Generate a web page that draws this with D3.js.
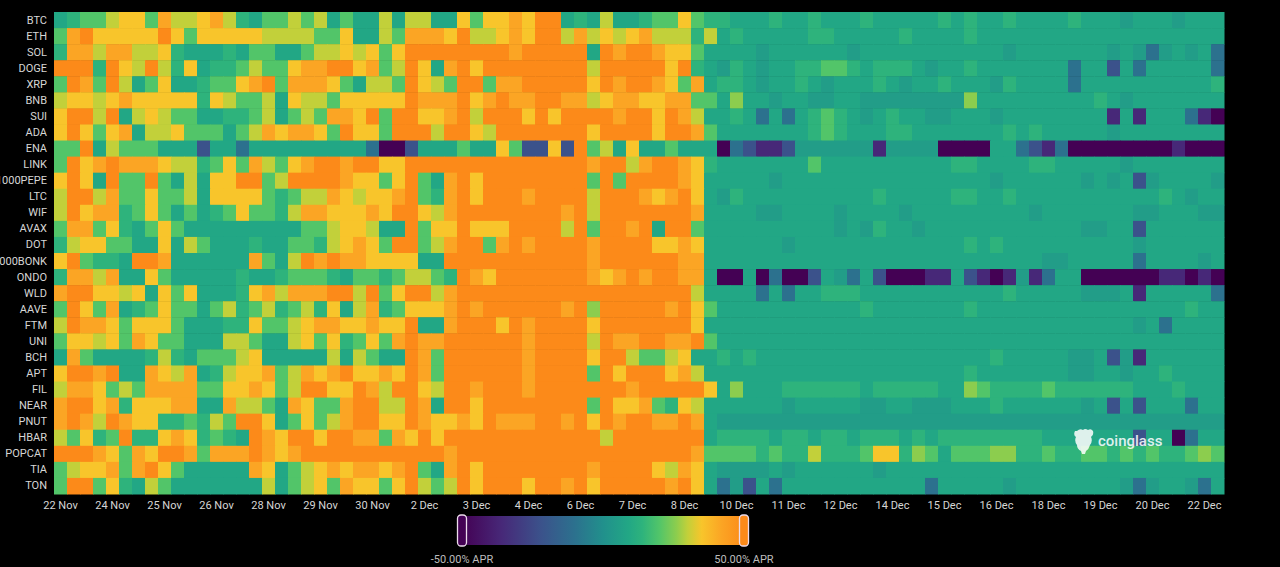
<!DOCTYPE html>
<html>
<head>
<meta charset="utf-8">
<script src="https://cdn.jsdelivr.net/npm/d3@7.9.0/dist/d3.min.js"></script>
<style>
  html, body { margin: 0; background: #000; overflow: hidden; }
  svg { display: block; font-family: Roboto, 'Noto Sans', sans-serif; }
</style>
</head>
<body>
<div id="chart"></div>
<script>
// coins, top to bottom
const symbols = ['BTC', 'ETH', 'SOL', 'DOGE', 'XRP', 'BNB', 'SUI', 'ADA', 'ENA', 'LINK',
  '1000PEPE', 'LTC', 'WIF', 'AVAX', 'DOT', '1000BONK', 'ONDO', 'WLD', 'AAVE', 'FTM',
  'UNI', 'BCH', 'APT', 'FIL', 'NEAR', 'PNUT', 'HBAR', 'POPCAT', 'TIA', 'TON'];

// 8h buckets, one label every 4 buckets
const tickLabels = ['22 Nov', '24 Nov', '25 Nov', '26 Nov', '28 Nov', '29 Nov', '30 Nov',
  '2 Dec', '3 Dec', '4 Dec', '6 Dec', '7 Dec', '8 Dec', '10 Dec', '11 Dec', '12 Dec',
  '14 Dec', '15 Dec', '16 Dec', '18 Dec', '19 Dec', '20 Dec', '22 Dec'];
const tickStep = 4;

// funding APR (%) per letter
const levelValues = { P: -50, V: -36, B: -22, b: -10, s: 5, t: 9, T: 14, g: 20, G: 26, y: 30, Y: 35, o: 42, O: 50 };

// one string per coin, 90 buckets (spaces only for reading)
const rates = [
  'tTggyYYgoyyYoyTtg gygytgttytyyttYgY YoYOOtTtyttTggYgT TtttTttTtttTtttttTtT ttTttttTtttstttsttt',
  'goOYYYYYOYgYYYYYy yyyggYttygoooYOyy YoYOOyoyYyYoyyyTy tTtttttTTtttttTttttT ttttttttttttttttttt',
  'TooyooyyYTtttTtgg ttgyyYyYgYOOOOOOO OoOOOOOtOoOOoYYgt tttsttttttsttttttttt ttstttttttstsbststb',
  'OOOTOYyOyTYtTTgyg gYooOOYogyOYtoOYO OOOOOOOyOOOOOYOTt sTtsttTTggTtTTTtsttT tttttttbttBtbtttttb',
  'gOogOytgYttTggYoO goooYgtyygOYygOOg ooOOOOOYOoOOoYgot TTtsttTtstttTtsttTtt tsTttttbttttttttttT',
  'yYYyYoYYYYYTYyggy tYyygYYYYYOoooOYo OooOOooyYooYYoogg tGttsttssttssssssssG tttttttttTtsttttttt',
  'YOOyOtyYyggttTTgy tgygooYOgOOYYoOyO OOYOYOOOOoOOYOoyt tTtbtbtTgTtstTttsstt tsttttttttVtVtttbVP',
  'YOYgYotyyYgggtgyo YooYgOYYgOOOyOOYy OOOOOOOYOOOOYOOog tttttttTgTtttTTttttt ttTtTtttttstttttttt',
  'ggOtygggtttBttbtt tttttttbPPBtttgtt YgBBYBOgytYttgttt PbBVVBssssssVssssPPP PttbBVbPPPPPPPPVPPP',
  'gOYoOoooYyyTgYgoy gYoOOoOOYYOOOOOOO OOOOOOOoOOyoOOoYT tttttttgttttttttttTT ttttTTtttttsttttttt',
  'YOYtOggOgtytYYOOg yOOOOoYYgYOgtoOYO OOOOOOOgOgOOOOoYt ttttsttttttttttttttt tsttttttststBstttts',
  'yOOyoggYggytYYYYg TgyyoYyYYoOgToOYO OOoOOOOyOOOoYoOYt sTttttttttttTtttttTT ttTtttttttttttTtstt',
  'yOYooTgYgtgtTgYgg TyooYYYoYOOYyoOOO OOOOOoOyOOOOOOOot tttssttttsttttsttttt ttttstttttttsstttss',
  'googYTtgYgttttttt ttggyYYyttOgYYOYY YOOOOyOgOOoOtOOgt tttttttttstsTttstttt ttttttttssttBtttttt',
  'TyYYggttYtygtttTt tggTyYoYgOOgyoOOg oOoOOOOoOOOOYYoYt tttttstttttttttttttT tTttttttttttstttttt',
  'YOgTTtOOottttttog tyOoOooYYYYttOOOO OOOOOOOoOOOOOOoot tttttttttttttttttttt tttttsstttttbttttst',
  'TooyottYgtttttTtt TgggTtggTgyygTOoY OOOOOOOoYoOoOOoot PPtPbPPBtsbtBPPPVVtB VPVsVbttPPPPPPVVPVP',
  'oOOYYyYtYgYtttTYo yoooOOyOgYOOyoOOO OOOOOOOOOOOOOOOyt tttbtbttTTTttttttttt ttTtttttssstVtttttb',
  'gOYgotTgYggtgyTgy TgyTYtyoTgYYYoOoO OOOOOoOGOOOOOoOYg tttttttttttTtttttttT ttttttttttttttttTtt',
  'yOooYgYYYgtttTTYg gyYooYYoYYOttoOOO YOoOOOOYOOOOOOOYt tttttttttttttttttttt ttttttttttttstbtttt',
  'gYYyYgoYggtttyygt tyYgYTgYgoOooOOOO OOoOOOOyOooOOooOg tttttttttttttttttttt ttttttttttttttttttt',
  'togttttTyTtgggyYt ttttytygttOogOOOO OOoOOOOYOOyggyYtt TtTttttttttttttttttt tTtttttsstBsVtttttt',
  'YOOoOttoYyotTyYYo gyoYoOYYoYOogOOOO OOoOOOOgOYOOOYoyt tttttttttttttttttttT tttttttssttsttTtttt',
  'yooYgygooooggYYoY gyOOYYOoyOOYyOOoO OOoOOOOOOOoOOOOOY tGtttTTTTTTtTTTTTttG gTTTTgTTTTTTtttTttt',
  'oOOYoTYYYoottoyyg toYggoOOyyOotOOYO OOOOOOOgOYYogTYyt tttttstttttssttssstt tTttttttstBtBtttbtt',
  'oOoyOoYYTTgTygOOY tgYgyoOOYYOoYYoYO oooOOoOYOoOOooOot ssssssssssssssssssss sssssssssssssssssss',
  'ygYTgOTTYoYTgTtOo YOOYOOoogoYOYOOOO OOOOOOOOyOOOOOOOt TTTTtTTtTTtTTTtTtTTT TTTTTtttttttBttPbtt',
  'OOOoYgoYOOogoooOo YoOOOOOOOOOOOoOOO OOOOOOOOOOOOOOOog gggTgTTyTTTgYYTGgtgg gGGTTgTTggTgTgTTgGg',
  'gyYYogoOYgtttttoY tgyYoYooYoOgtoOYO OOOOOOOoOOOOYyoYt sssststtttttsttttttt ttttttttttttttttttt',
  'gOOgYTtygttttttty tgyYgoYYgYOygyOYO OOYOOoOYOOOOOoOYt bsBtbtttttttttttbttt ttsttttttttsbsttsbt'
];

// colour ramp, APR % -> colour
const rampValues = [-50, -36, -22, -10, 0, 9, 14, 20, 26, 30, 35, 42, 50];
const rampColors = ['#440154', '#472878', '#3b528b', '#2c718e', '#21908c', '#22a785', '#2eb37c',
  '#52c569', '#8ccd4e', '#c2d03a', '#f8c52b', '#fba524', '#fc8a19'];

const width = 1280;
const height = 567;

const cells = [];
rates.forEach((row, i) => {
  row.replace(/ /g, '').split('').forEach((ch, j) => {
    cells.push({ symbol: symbols[i], col: j, value: levelValues[ch] });
  });
});
const nCols = d3.max(rates, (r) => r.replace(/ /g, '').length);

const svg = d3
  .select('#chart')
  .append('svg')
  .attr('width', width)
  .attr('height', height);

svg.append('rect').attr('width', width).attr('height', height).attr('fill', '#000');

const plot = { left: 54, right: 1224, top: 12, bottom: 494 };

const xScale = d3
  .scaleBand()
  .domain(d3.range(nCols))
  .range([plot.left, plot.right]);

const yScale = d3
  .scaleBand()
  .domain(symbols)
  .range([plot.top, plot.bottom]);

const color = d3
  .scaleLinear()
  .domain(rampValues)
  .range(rampColors)
  .clamp(true);

// cells
svg
  .append('g')
  .attr('class', 'cells')
  .selectAll('rect')
  .data(cells)
  .join('rect')
  .attr('x', (d) => xScale(d.col))
  .attr('y', (d) => yScale(d.symbol))
  .attr('width', xScale.bandwidth() + 0.5)
  .attr('height', yScale.bandwidth() + 0.5)
  .attr('fill', (d) => color(d.value));

// axes
const tickCols = tickLabels.map((_, i) => i * tickStep);
const xAxis = svg
  .append('g')
  .attr('transform', `translate(0, ${plot.bottom})`)
  .call(
    d3.axisBottom(xScale)
      .tickValues(tickCols)
      .tickFormat((d) => tickLabels[d / tickStep])
      .tickSize(0)
      .tickPadding(7)
  );

const yAxis = svg
  .append('g')
  .attr('transform', `translate(${plot.left}, 0)`)
  .call(d3.axisLeft(yScale).tickSize(0).tickPadding(7));

[xAxis, yAxis].forEach((g) => {
  g.select('.domain').remove();
  g.selectAll('text')
    .attr('fill', '#d6d6d6')
    .style('font-size', '11px')
    .style('font-family', 'Roboto, sans-serif');
});

// watermark
const mark = svg.append('g').attr('opacity', 0.85);
mark
  .append('path')
  .attr('d', 'M1077,431 q3,-3 6,-1 q2,-2 5,0 q3,-2 5,1 q1,4 -2,6 q2,4 -1,8 q-1,4 -4,6 l-1,3 h-3 l-1,-3 q-4,-2 -4,-6 q-3,-4 -1,-8 q-3,-2 -1,-6 z')
  .attr('fill', '#ffffff');
mark
  .append('text')
  .attr('x', 1098)
  .attr('y', 446)
  .attr('fill', '#ffffff')
  .style('font-size', '15px')
  .style('font-weight', 500)
  .text('coinglass');

// legend
const legend = { x0: 462, x1: 744, y: 516, h: 29 };
const defs = svg.append('defs');
const grad = defs
  .append('linearGradient')
  .attr('id', 'apr-grad')
  .attr('x1', '0%')
  .attr('x2', '100%');
grad
  .selectAll('stop')
  .data(rampValues)
  .join('stop')
  .attr('offset', (d) => `${((d + 50) / 100) * 100}%`)
  .attr('stop-color', (d) => color(d));

svg
  .append('rect')
  .attr('x', legend.x0)
  .attr('y', legend.y)
  .attr('width', legend.x1 - legend.x0)
  .attr('height', legend.h)
  .attr('fill', 'url(#apr-grad)');

// the two drag handles at the ends
[[legend.x0, -50], [legend.x1, 50]].forEach(([x, v]) => {
  svg
    .append('rect')
    .attr('x', x - 4.5)
    .attr('y', legend.y - 1)
    .attr('width', 9)
    .attr('height', legend.h + 2)
    .attr('rx', 3.5)
    .attr('fill', color(v))
    .attr('stroke', '#ecdcec')
    .attr('stroke-width', 1.3);
});

svg
  .selectAll('.legend-label')
  .data([[legend.x0, '-50.00% APR'], [legend.x1, '50.00% APR']])
  .join('text')
  .attr('class', 'legend-label')
  .attr('x', (d) => d[0])
  .attr('y', 563)
  .attr('text-anchor', 'middle')
  .attr('fill', '#bdbdbd')
  .style('font-size', '11px')
  .text((d) => d[1]);
</script>
</body>
</html>
